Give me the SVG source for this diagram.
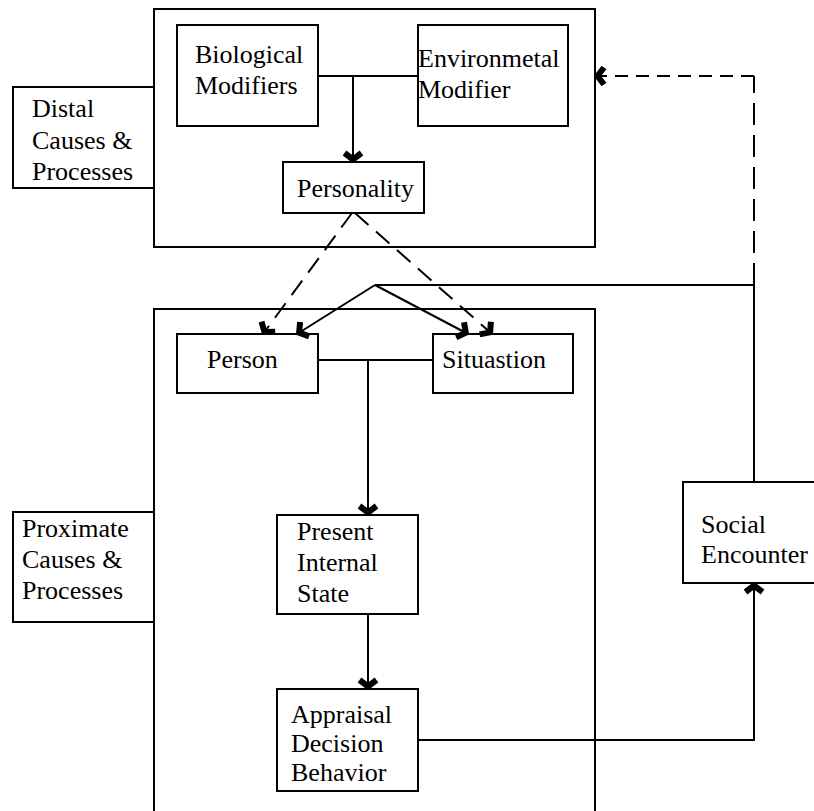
<svg xmlns="http://www.w3.org/2000/svg" width="814" height="811" viewBox="0 0 814 811">
<defs>
<style>
.box{fill:#fff;stroke:#000;stroke-width:2}
.ln{fill:none;stroke:#000;stroke-width:2}
.dh{fill:none;stroke:#000;stroke-width:2;stroke-dasharray:13 8}
.dv{fill:none;stroke:#000;stroke-width:2;stroke-dasharray:22 10}
.dd{fill:none;stroke:#000;stroke-width:2;stroke-dasharray:18 10}
text{font-family:'Liberation Serif','Times New Roman','DejaVu Serif',serif;font-size:26px;fill:#000}
</style>
<marker id="ah" markerUnits="userSpaceOnUse" markerWidth="30" markerHeight="30" viewBox="-15 -15 30 30" refX="-1" refY="0" orient="auto">
<path d="M-10,-8.5 L-3.5,0 L-10,8.5" fill="none" stroke="#000" stroke-width="6" stroke-linejoin="miter" stroke-miterlimit="10"/>
</marker>
</defs>
<rect width="814" height="811" fill="#fff"/>

<g id="distal-frame"><rect class="box" x="154" y="9" width="441" height="238"/></g>
<g id="proximate-frame"><rect class="box" x="154" y="309" width="441" height="520"/></g>

<g id="distal-label"><rect class="box" x="13" y="87" width="141" height="101"/>
<text x="32" y="117">Distal</text><text x="32" y="149">Causes &amp;</text><text x="32" y="180">Processes</text></g>

<g id="proximate-label"><rect class="box" x="13" y="512" width="141" height="110"/>
<text x="22" y="537">Proximate</text><text x="22" y="568">Causes &amp;</text><text x="22" y="599">Processes</text></g>

<g id="biological"><rect class="box" x="177" y="25" width="141" height="101"/>
<text x="195" y="63">Biological</text><text x="195" y="94">Modifiers</text></g>

<g id="environmental"><rect class="box" x="418" y="25" width="150" height="101"/>
<text x="418" y="67">Environmetal</text><text x="418" y="98">Modifier</text></g>

<g id="personality"><rect class="box" x="283" y="162" width="141" height="51"/>
<text x="297" y="197">Personality</text></g>

<g id="person"><rect class="box" x="177" y="334" width="141" height="59"/>
<text x="207" y="368">Person</text></g>

<g id="situation"><rect class="box" x="433" y="334" width="140" height="59"/>
<text x="442" y="368">Situastion</text></g>

<g id="present-internal-state"><rect class="box" x="277" y="515" width="141" height="99"/>
<text x="297" y="540">Present</text><text x="297" y="571">Internal</text><text x="297" y="602">State</text></g>

<g id="appraisal"><rect class="box" x="277" y="689" width="141" height="102"/>
<text x="291" y="723">Appraisal</text><text x="291" y="752">Decision</text><text x="291" y="781">Behavior</text></g>

<g id="social-encounter"><rect class="box" x="683" y="482" width="140" height="101"/>
<text x="701" y="533">Social</text><text x="701" y="563">Encounter</text></g>

<g id="connectors">
<path class="ln" d="M318,76 H418"/>
<path class="ln" d="M353,76 V162" marker-end="url(#ah)"/>
<path class="dd" d="M352,213 L263,334" marker-end="url(#ah)"/>
<path class="dd" d="M355,213 L492,334" marker-end="url(#ah)"/>
<path class="ln" d="M375,285 L297,334" marker-end="url(#ah)"/>
<path class="ln" d="M375,285 L468,334" marker-end="url(#ah)"/>
<path class="ln" d="M375,285 H754 V482"/>
<path class="ln" d="M318,360 H433"/>
<path class="ln" d="M368,360 V515" marker-end="url(#ah)"/>
<path class="ln" d="M368,614 V689" marker-end="url(#ah)"/>
<path class="ln" d="M418,740 H754 V583" marker-end="url(#ah)"/>
<path class="dv" d="M754,285 V76"/>
<path class="dh" d="M754,76 H595" marker-end="url(#ah)"/>
</g>
</svg>
